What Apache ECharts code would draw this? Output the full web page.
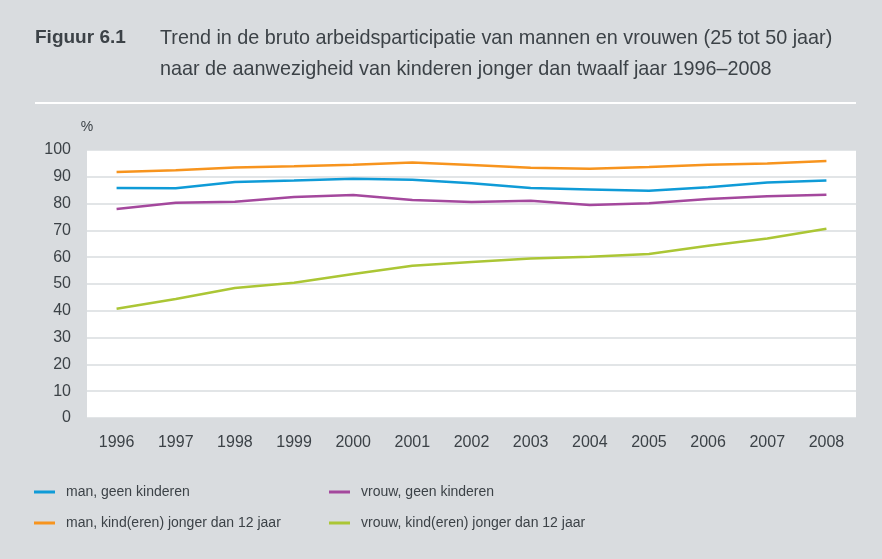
<!DOCTYPE html>
<html>
<head>
<meta charset="utf-8">
<script src="https://cdn.jsdelivr.net/npm/echarts@6/dist/echarts.min.js"></script>
<style>
  html, body { margin: 0; padding: 0; background: #d9dcdf; }
  #chart { width: 882px; height: 559px; }
</style>
</head>
<body>
<div id="chart"></div>
<script>
// Years on the category axis
const years = ['1996','1997','1998','1999','2000','2001','2002','2003','2004','2005','2006','2007','2008'];

// Gross labour participation (%) by group
const manGeenKinderen   = [85.8, 85.7, 88.1, 88.6, 89.3, 88.9, 87.6, 85.8, 85.3, 84.8, 86.1, 87.9, 88.6];
const vrouwGeenKinderen = [78.0, 80.3, 80.7, 82.5, 83.2, 81.3, 80.6, 81.1, 79.5, 80.1, 81.7, 82.7, 83.3];
const manKinderen       = [91.8, 92.4, 93.5, 93.9, 94.5, 95.3, 94.4, 93.4, 93.0, 93.7, 94.5, 95.0, 95.9];
const vrouwKinderen     = [40.8, 44.4, 48.5, 50.5, 53.7, 56.8, 58.2, 59.5, 60.2, 61.2, 64.3, 67.0, 70.6];

const seriesNames = [
  'man, geen kinderen',
  'vrouw, geen kinderen',
  'man, kind(eren) jonger dan 12 jaar',
  'vrouw, kind(eren) jonger dan 12 jaar'
];
const colors = ['#0f9bd7', '#a4489d', '#f7941e', '#abc635'];

const textColor = '#3c4247';
const font = 'Liberation Sans, Arial, sans-serif';

const chart = echarts.init(document.getElementById('chart'), null, { renderer: 'canvas' });

function lineSeries(i, data) {
  return {
    name: seriesNames[i],
    type: 'line',
    data: data,
    symbol: 'none',
    color: colors[i],
    lineStyle: { width: 2.5, color: colors[i] },
    animation: false
  };
}

const legendCommon = {
  orient: 'vertical',
  icon: 'rect',
  itemWidth: 21,
  itemHeight: 3,
  itemGap: 17,
  textStyle: { fontFamily: font, fontSize: 14, color: textColor, padding: [0, 0, 0, 6] },
  selectedMode: false
};

chart.setOption({
  backgroundColor: '#d9dcdf',
  animation: false,
  title: [
    {
      text: 'Figuur 6.1',
      left: 30, top: 23,
      textStyle: { fontFamily: font, fontSize: 19, fontWeight: 'bold', color: textColor }
    },
    {
      text: 'Trend in de bruto arbeidsparticipatie van mannen en vrouwen (25 tot 50 jaar)\nnaar de aanwezigheid van kinderen jonger dan twaalf jaar 1996–2008',
      left: 155, top: 18,
      textStyle: { fontFamily: font, fontSize: 19.8, fontWeight: 'normal', color: textColor, lineHeight: 31 }
    }
  ],
  graphic: [
    { type: 'rect', shape: { x: 35, y: 102, width: 821, height: 2 }, style: { fill: '#ffffff' }, silent: true }
  ],
  legend: [
    Object.assign({ left: 29, top: 480, data: [seriesNames[0], seriesNames[2]] }, legendCommon),
    Object.assign({ left: 324, top: 480, data: [seriesNames[1], seriesNames[3]] }, legendCommon)
  ],
  grid: {
    left: 87, right: 26, top: 150, bottom: 141,
    show: true, backgroundColor: '#ffffff', borderWidth: 0,
    containLabel: false
  },
  xAxis: {
    type: 'category',
    data: years,
    boundaryGap: true,
    axisLine: { show: false },
    axisTick: { show: false },
    axisLabel: { fontFamily: font, fontSize: 16, color: textColor, margin: 17 },
    splitLine: { show: false }
  },
  yAxis: {
    type: 'value',
    min: 0, max: 100, interval: 10,
    name: '%',
    nameGap: 16,
    nameTextStyle: { fontFamily: font, fontSize: 14, color: textColor },
    axisLine: { show: false },
    axisTick: { show: false },
    axisLabel: { fontFamily: font, fontSize: 16, color: textColor, margin: 16 },
    splitLine: { show: true, lineStyle: { color: '#d9dcdf', width: 1.5 } }
  },
  series: [
    lineSeries(0, manGeenKinderen),
    lineSeries(1, vrouwGeenKinderen),
    lineSeries(2, manKinderen),
    lineSeries(3, vrouwKinderen)
  ]
});
</script>
</body>
</html>
